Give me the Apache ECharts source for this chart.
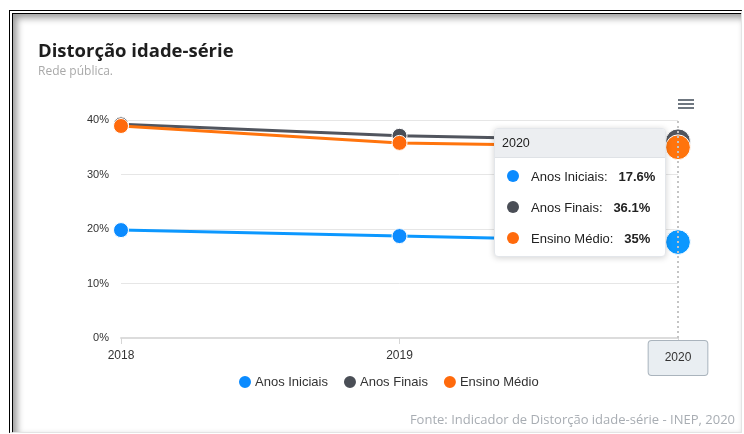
<!DOCTYPE html>
<html>
<head>
<meta charset="utf-8">
<script src="https://cdn.jsdelivr.net/npm/echarts@6/dist/echarts.min.js"></script>
<style>
  html, body { margin: 0; padding: 0; background: #fff; width: 744px; height: 434px; overflow: hidden; }
  #frame {
    position: absolute; left: 9px; top: 10px; right: 2px; bottom: 1px;
    border-left: 4px double #000; border-top: 4px double #000;
    border-right: 1px solid #e4e4e4; border-bottom: 1px solid #e4e4e4;
    box-shadow: inset 4px 4px 7px rgba(0,0,0,0.4);
    background: #fff;
  }
  #chart { position: absolute; left: 0; top: 0; width: 744px; height: 434px; }
</style>
</head>
<body>
<div id="frame"></div>
<div id="chart"></div>
<script>
// Distorção idade-série, rede pública
const years = ['2018', '2019', '2020'];
const anosIniciais = [19.8, 18.7, 17.6];
const anosFinais = [39.2, 37.1, 36.1];
const ensinoMedio = [38.9, 35.8, 35];
const seriesNames = ['Anos Iniciais', 'Anos Finais', 'Ensino Médio'];
const colors = ['#0b8bff', '#4a4e56', '#ff6a0c'];
const yTicks = [0, 10, 20, 30, 40];

const chart = echarts.init(document.getElementById('chart'), null, { renderer: 'canvas' });
const font = 'Liberation Sans, Arial, sans-serif';

function lineSeries(name, data, color) {
  return {
    name: name,
    type: 'line',
    data: data,
    symbol: 'circle',
    symbolSize: 15,
    lineStyle: { width: 3, color: color },
    itemStyle: { color: color, borderColor: '#fff', borderWidth: 1 },
    emphasis: { scale: 1.65, focus: 'none', lineStyle: { width: 3 } }
  };
}

chart.setOption({
  animation: false,
  color: colors,
  textStyle: { fontFamily: font },
  title: [
    {
      text: 'Distorção idade-série',
      subtext: 'Rede pública.',
      left: 33, top: 37,
      itemGap: 5,
      textStyle: { fontFamily: 'Open Sans, sans-serif', fontSize: 18.5, fontWeight: 700, color: '#1e1e1e' },
      subtextStyle: { fontFamily: 'Open Sans, sans-serif', fontSize: 12, color: '#a9a9a9' }
    },
    {
      text: 'Fonte: Indicador de Distorção idade-série - INEP, 2020',
      right: 4, top: 409,
      textStyle: { fontFamily: 'Open Sans, sans-serif', fontSize: 13, fontWeight: 400, color: '#a8adb3' }
    }
  ],
  graphic: [
    {
      type: 'group', left: 678, top: 99,
      children: [0, 4, 8].map(function (dy) {
        return { type: 'rect', shape: { x: 0, y: dy, width: 16, height: 2 }, style: { fill: '#6f7780' } };
      })
    }
  ],
  legend: {
    data: seriesNames,
    top: 369, left: 232,
    icon: 'circle', itemWidth: 14, itemHeight: 14, itemGap: 14,
    textStyle: { fontSize: 13, color: '#333', padding: [0, 0, 0, -2] }
  },
  grid: { left: 121, right: 66, top: 120, bottom: 96 },
  tooltip: {
    trigger: 'axis',
    alwaysShowContent: true,
    position: function () { return [494, 128]; },
    padding: 0,
    borderWidth: 1,
    borderColor: '#e3e6ea',
    backgroundColor: '#fff',
    extraCssText: 'box-shadow: 0 1px 6px rgba(0,0,0,0.18); border-radius: 4px; overflow: hidden;',
    axisPointer: {
      type: 'line',
      lineStyle: { type: [2, 3], color: '#c4c4c4', width: 2 },
      label: {
        show: true,
        margin: 3,
        padding: [11, 16, 11, 16],
        backgroundColor: '#e9eef2',
        borderColor: '#aab4bd',
        borderWidth: 1,
        color: '#333',
        fontSize: 12,
        shadowBlur: 0
      }
    },
    formatter: function (params) {
      let html = '<div style="font-family:Liberation Sans,Arial,sans-serif;width:170px;color:#222;">' +
        '<div style="background:#eceef1;border-bottom:1px solid #dfe2e6;height:28px;line-height:28px;padding:0 7px;font-size:12.5px;">' +
        params[0].axisValue + '</div><div style="padding:3px 0 2px 0;">';
      params.forEach(function (p) {
        html += '<div style="height:31px;line-height:31px;font-size:13px;padding-left:12px;white-space:nowrap;">' +
          '<span style="display:inline-block;width:12px;height:12px;border-radius:6px;background:' + p.color +
          ';vertical-align:-1px;margin-right:12px;"></span>' + p.seriesName + ':&nbsp;&nbsp;&nbsp;' +
          '<b>' + p.value + '%</b></div>';
      });
      return html + '</div></div>';
    }
  },
  xAxis: {
    type: 'category',
    data: years,
    boundaryGap: false,
    axisLine: { lineStyle: { color: '#dcdcdc', width: 2 } },
    axisTick: { show: true, alignWithLabel: true, length: 6, lineStyle: { color: '#d6d6d6' } },
    axisLabel: { color: '#333', fontSize: 12, margin: 12 }
  },
  yAxis: {
    type: 'value',
    min: yTicks[0], max: yTicks[yTicks.length - 1], interval: 10,
    axisLabel: { formatter: '{value}%', color: '#333', fontSize: 11, margin: 12 },
    splitLine: { lineStyle: { color: '#e6e6e6' } },
    axisLine: { show: false },
    axisTick: { show: false }
  },
  series: [
    lineSeries(seriesNames[0], anosIniciais, colors[0]),
    lineSeries(seriesNames[1], anosFinais, colors[1]),
    lineSeries(seriesNames[2], ensinoMedio, colors[2])
  ]
});

chart.dispatchAction({ type: 'showTip', seriesIndex: 0, dataIndex: 2 });
chart.dispatchAction({ type: 'highlight', seriesIndex: [0, 1, 2], dataIndex: 2 });
</script>
</body>
</html>
